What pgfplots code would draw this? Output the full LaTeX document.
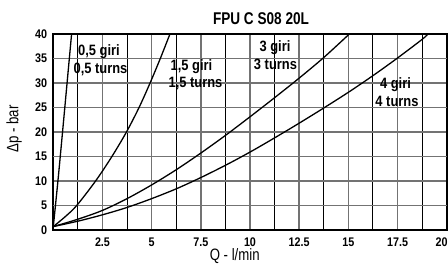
\documentclass[border=0pt]{standalone}
\usepackage{fontspec}
\setmainfont{Liberation Sans}[FakeStretch=0.86]
\newfontfamily\narrow{Liberation Sans}[FakeStretch=0.8]
\usepackage{pgfplots}
\pgfplotsset{compat=1.18}
\begin{document}
\begin{tikzpicture}
\path[use as bounding box] (-53.3pt,-35pt) rectangle (394.7pt,230pt);
\begin{axis}[
  scale only axis, width=393.4pt, height=196pt,
  xmin=0, xmax=20, ymin=0, ymax=40,
  xtick={2.5,5,7.5,10,12.5,15,17.5,20},
  xticklabels={2.5,5,7.5,10,12.5,15,17.5,{\makebox[0pt][r]{20\kern-1pt}}},
  minor xtick={1.25,3.75,6.25,8.75,11.25,13.75,16.25,18.75},
  ytick={0,10,20,30,40},
  extra y ticks={5,15,25,35},
  extra y tick style={grid style={black, line width=0.9pt}},
  grid=both,
  major grid style={black!55, line width=1.4pt},
  minor grid style={black, line width=0.9pt},
  major tick length=0pt, minor tick length=0pt,
  axis line style={line width=1.7pt},
  /pgf/number format/assume math mode=true,
  tick label style={font=\fontsize{12.5}{13}\selectfont\bfseries},
  xticklabel style={anchor=north, inner sep=0pt, yshift=-7.5pt},
  yticklabel style={anchor=east, inner sep=0pt, xshift=-6pt},
  clip mode=individual,
]
\addplot[black, line width=1.3pt, smooth] coordinates {(0,0.7) (0.24,10.2) (0.47,20) (0.7,30) (0.93,40)};
\addplot[black, line width=1.3pt, smooth] coordinates {(0,0.7) (0.6,2.7) (1.19,5) (2.15,10) (2.98,15) (3.72,20) (4.36,25) (4.92,30) (5.44,35) (5.93,40)};
\addplot[black, line width=1.3pt, smooth] coordinates {(0,0.7) (1.25,2.2) (2.5,4.0) (3.75,6.4) (5,9.2) (6.25,12.3) (7.5,15.7) (8.75,19.3) (10,23.1) (11.25,27.0) (12.5,31.0) (13.75,35.2) (15.05,40)};
\addplot[black, line width=1.3pt, smooth] coordinates {(0,0.7) (1.25,1.8) (2.5,3.1) (3.75,4.6) (5,6.4) (6.25,8.4) (7.5,10.7) (8.75,13.2) (10,15.9) (11.25,18.8) (12.5,21.8) (13.75,24.9) (15,28.1) (16.25,31.5) (17.5,35.1) (18.75,38.9) (19.05,40)};
\end{axis}
\node[anchor=base, inner sep=0pt, font=\narrow\bfseries\fontsize{17}{18}\selectfont] at (207.7pt,205pt) {FPU C S08 20L};
\node[anchor=base, inner sep=0pt, font=\narrow\fontsize{16.5}{17}\selectfont] at (181.4pt,-31pt) {Q - l/min};
\node[anchor=base, rotate=90, inner sep=0pt, font=\narrow\fontsize{16.5}{17}\selectfont] at (-35pt,101pt) {Δp - bar};
\begin{scope}[every node/.style={anchor=base, inner sep=0pt, font=\bfseries\fontsize{15}{16}\selectfont}]
\node at (45.7pt,174pt) {0,5 giri};
\node at (47.2pt,156.7pt) {0,5 turns};
\node at (138.2pt,159pt) {1,5 giri};
\node at (142.2pt,142.7pt) {1,5 turns};
\node at (221.7pt,178.3pt) {3 giri};
\node at (222.2pt,160pt) {3 turns};
\node at (342.2pt,141.7pt) {4 giri};
\node at (343.7pt,123.3pt) {4 turns};
\end{scope}
\end{tikzpicture}
\end{document}
